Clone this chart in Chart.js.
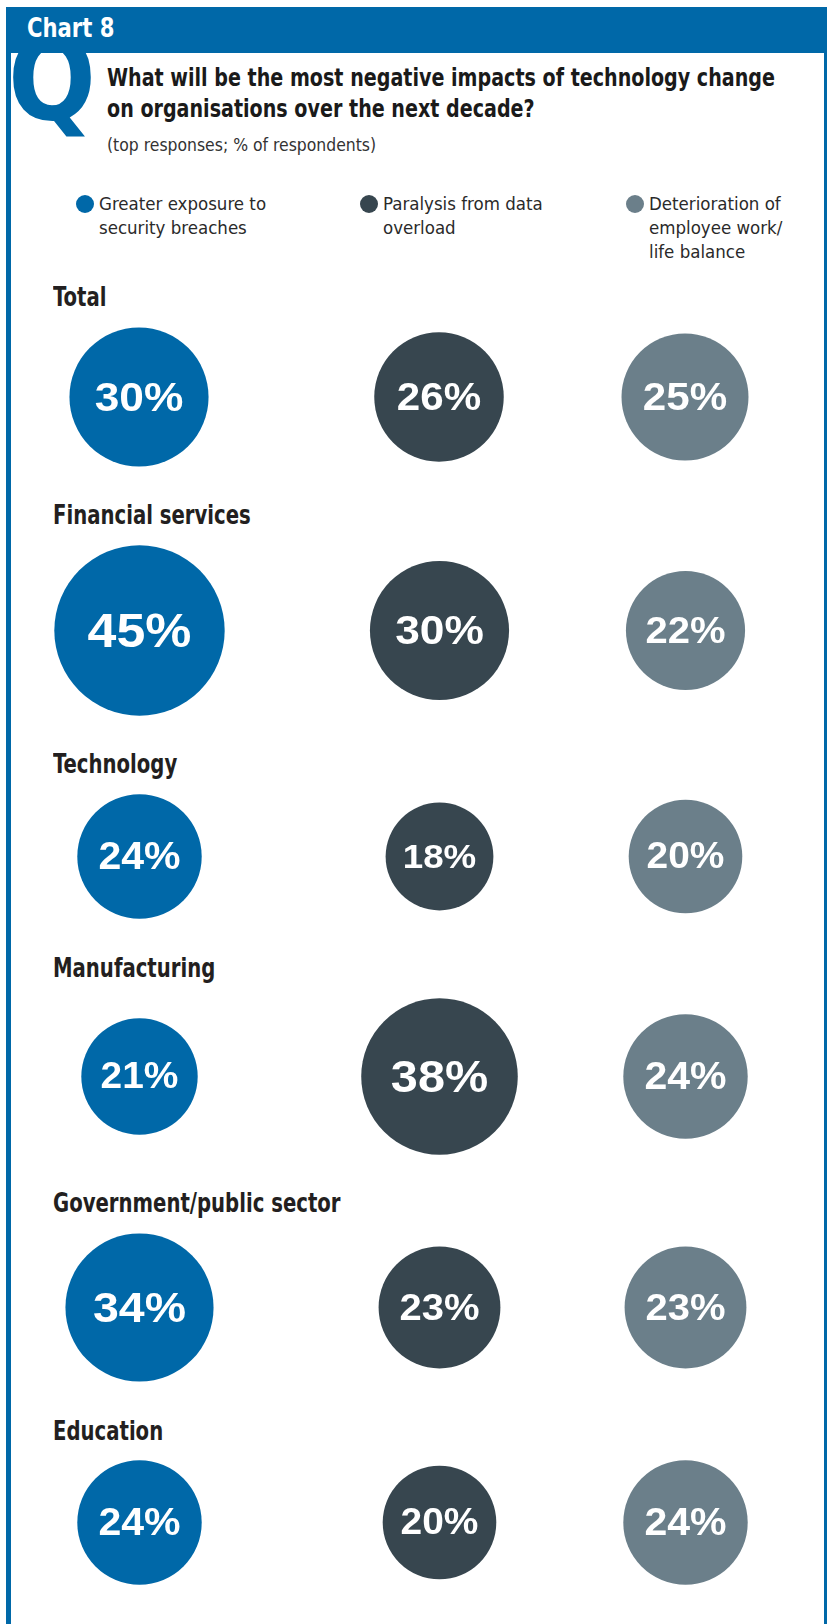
<!DOCTYPE html>
<html>
<head>
<meta charset="utf-8">
<title>Chart 8</title>
<script src="https://cdn.jsdelivr.net/npm/chart.js@4.4.1/dist/chart.umd.min.js"></script>
<style>
  html, body { margin: 0; padding: 0; background: #fff; }
  body {
    width: 827px; height: 1624px; position: relative; overflow: hidden;
    font-family: 'DejaVu Sans Condensed', 'Liberation Sans Narrow', 'Noto Sans', sans-serif;
    font-stretch: condensed;
    color: #231f20;
  }
  .abs { position: absolute; white-space: nowrap; }
  .narrow { transform-origin: left top; }

  /* frame + header bar */
  #frameL { left: 6px; top: 7px; width: 5px; height: 1617px; background: #0068a8; }
  #frameR { left: 824px; top: 7px; width: 3px; height: 1617px; background: #0068a8; }
  #header { left: 6px; top: 7px; width: 821px; height: 46px; background: #0068a8; z-index: 3; }
  #chartNo { left: 27px; top: 14px; font-size: 27px; line-height: 27px; font-weight: bold; color: #fff; z-index: 4; transform: scaleX(0.87); }
  #bigQ { left: 8px; top: 22px; font-size: 115px; line-height: 115px; font-weight: bold; color: #0068a8; z-index: 1; }

  #question { left: 107px; top: 63px; font-size: 24px; line-height: 31px; font-weight: bold; color: #1a1a1a; transform: scaleX(0.885); }
  #note { left: 107px; top: 137px; font-size: 17.4px; line-height: 17px; color: #333; }

  /* legend */
  .legItem { top: 192px; font-size: 18.5px; line-height: 24px; color: #2a2a2a; }
  .legDot { position: absolute; width: 18px; height: 18px; border-radius: 50%; left: -23px; top: 3px; }

  /* one block per group: heading + circles */
  #rows { left: 0; top: 282px; width: 827px; }
  .row { position: relative; }
  .row h3 { margin: 0 0 0 53px; font-size: 27px; line-height: 30px; font-weight: bold; color: #231f20;
            white-space: nowrap; transform: scaleX(0.81); transform-origin: left top; }
  .cells { position: relative; margin-top: 15px; margin-bottom: 34px; }
  .cells canvas { position: absolute; display: block; }
</style>
</head>
<body>
<div id="frameL" class="abs"></div>
<div id="frameR" class="abs"></div>
<div id="header" class="abs"></div>
<div id="chartNo" class="abs narrow">Chart 8</div>
<div id="bigQ" class="abs">Q</div>
<div id="question" class="abs narrow">What will be the most negative impacts of technology change<br>on organisations over the next decade?</div>
<div id="note" class="abs">(top responses; % of respondents)</div>
<div id="legend"></div>
<div id="rows" class="abs"></div>

<script>
/* ---------- Dados ---------- */
const groups = ['Total', 'Financial services', 'Technology', 'Manufacturing', 'Government/public sector', 'Education'];
const securityBreaches = [30, 45, 24, 21, 34, 24];
const dataOverload     = [26, 30, 18, 38, 23, 20];
const workLifeBalance  = [25, 22, 20, 24, 23, 24];

const seriesLabels = [
    ['Greater exposure to', 'security breaches'],
    ['Paralysis from data', 'overload'],
    ['Deterioration of', 'employee work/', 'life balance']
];
const seriesColors = ['#0068a8', '#37464f', '#6b7f8a'];

/* ---------- Layout ---------- */
const COL_CENTERS = [139, 439, 685];   // circle column centres
const LEGEND_LEFT = [99, 383, 649];    // legend text starts
const RADIUS_SCALE = 12.7;             // area-proportional: r = k * sqrt(%)
const PAD = 4;

function bubbleRadius(v) {
    return RADIUS_SCALE * Math.sqrt(v);
}

/* ---------- Legenda ---------- */
function buildLegend() {
    const legend = document.getElementById('legend');
    seriesLabels.forEach((lines, i) => {
        const item = document.createElement('div');
        item.className = 'abs legItem';
        item.style.left = LEGEND_LEFT[i] + 'px';
        item.innerHTML = lines.join('<br>');
        const dot = document.createElement('span');
        dot.className = 'legDot';
        dot.style.background = seriesColors[i];
        item.appendChild(dot);
        legend.appendChild(item);
    });
}

/* ---------- Rótulos de valor dentro dos círculos ---------- */
const valueLabels = {
    id: 'valueLabels',
    afterDatasetsDraw(chart) {
        const ctx = chart.ctx;
        chart.data.datasets.forEach((ds, di) => {
            chart.getDatasetMeta(di).data.forEach((el, i) => {
                const r = el.options.radius;
                const fs = Math.round(0.45 * r + 10);
                ctx.save();
                ctx.translate(el.x, el.y);
                ctx.scale(1.08, 1);
                ctx.fillStyle = '#ffffff';
                ctx.textAlign = 'center';
                ctx.textBaseline = 'alphabetic';
                ctx.font = 'bold ' + fs + 'px "Liberation Sans", Arial, sans-serif';
                ctx.fillText(ds.data[i].v + '%', 0, 0.358 * fs - 1);
                ctx.restore();
            });
        });
    }
};

function makeBubble(canvas, value, color) {
    return new Chart(canvas, {
        type: 'bubble',
        data: {
            datasets: [{
                data: [{ x: 0, y: 0, r: bubbleRadius(value), v: value }],
                backgroundColor: color,
                borderWidth: 0,
                hoverRadius: 0,
                clip: false
            }]
        },
        options: {
            responsive: false,
            animation: false,
            events: [],
            layout: { padding: 0 },
            plugins: { legend: { display: false }, tooltip: { enabled: false } },
            scales: {
                x: { type: 'linear', min: -1, max: 1, display: false },
                y: { type: 'linear', min: -1, max: 1, display: false }
            }
        },
        plugins: [valueLabels]
    });
}

/* ---------- Linhas por grupo ---------- */
function buildRows() {
    const rows = document.getElementById('rows');
    groups.forEach((name, gi) => {
        const values = [securityBreaches[gi], dataOverload[gi], workLifeBalance[gi]];
        const rMax = Math.max(...values.map(bubbleRadius));

        const row = document.createElement('div');
        row.className = 'row';
        const h = document.createElement('h3');
        h.textContent = name;
        row.appendChild(h);

        const cells = document.createElement('div');
        cells.className = 'cells';
        cells.style.height = (2 * rMax) + 'px';
        row.appendChild(cells);
        rows.appendChild(row);

        const size = Math.ceil(2 * rMax + 2 * PAD);
        values.forEach((v, si) => {
            const canvas = document.createElement('canvas');
            canvas.width = size;
            canvas.height = size;
            canvas.style.width = size + 'px';
            canvas.style.height = size + 'px';
            canvas.style.left = (COL_CENTERS[si] - size / 2) + 'px';
            canvas.style.top = (rMax - size / 2) + 'px';
            cells.appendChild(canvas);
            makeBubble(canvas, v, seriesColors[si]);
        });
    });
}

buildLegend();
buildRows();
</script>
</body>
</html>
